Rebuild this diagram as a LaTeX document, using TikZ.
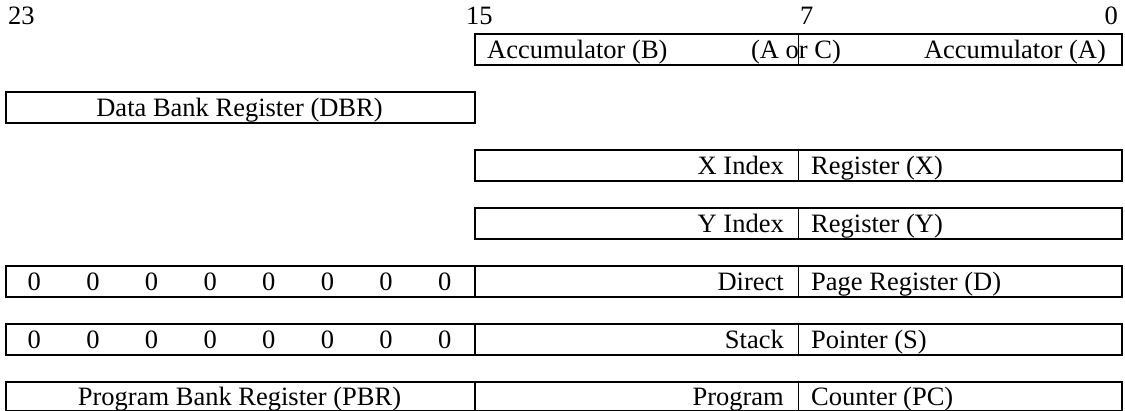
\documentclass[tikz,border=0pt]{standalone}
\usepackage{fontspec}
\setmainfont{Liberation Serif}
\begin{document}
\begin{tikzpicture}[x=1pt,y=-1pt,
  reg/.style={draw, line width=2pt, rectangle, inner sep=0pt, anchor=north west, minimum height=31.5pt},
  wide/.style={reg, minimum width=647pt},
  narrow/.style={reg, minimum width=469pt},
  lab/.style={inner sep=0pt, font=\fontsize{26.5}{30}\selectfont},
  div/.style={line width=1pt}]
\useasboundingbox (0,0) rectangle (1125,411);

% bit numbers
\node[lab, anchor=base west] (b23) at (8,25) {23};
\node[lab, anchor=base west] (b15) at (466,25) {15};
\node[lab, anchor=base west] (b7) at (800,25) {7};
\node[lab, anchor=base east] (b0) at (1118,25) {0};

% accumulator
\node[wide] (acc) at (474,33) {};
\draw[div] ([xshift=324pt]acc.north west) -- ([xshift=324pt]acc.south west);
\node[lab, anchor=base west] (accb) at (487,58.5) {Accumulator (B)};
\node[lab, anchor=base] (accc) at (796,58.5) {(A or C)};
\node[lab, anchor=base east] (acca) at (1106,58.5) {Accumulator (A)};

% data bank register
\node[narrow] (dbr) at (5,91) {};
\node[lab, anchor=base] (dbrt) at (239.5,116.5) {Data Bank Register (DBR)};

% X index
\node[wide] (xr) at (474,149) {};
\draw[div] ([xshift=324pt]xr.north west) -- ([xshift=324pt]xr.south west);
\node[lab, anchor=base east] (xl) at (784,174.5) {X Index};
\node[lab, anchor=base west] (xrr) at (811,174.5) {Register (X)};

% Y index
\node[wide] (yr) at (474,207) {};
\draw[div] ([xshift=324pt]yr.north west) -- ([xshift=324pt]yr.south west);
\node[lab, anchor=base east] (yl) at (784,232.5) {Y Index};
\node[lab, anchor=base west] (yrr) at (811,232.5) {Register (Y)};

% Direct page
\node[narrow] (dz) at (5,265) {};
\foreach \k in {0,...,7}
  \node[lab, anchor=base] (dz\k) at ({5+58.625*(\k+0.5)},290.5) {0};
\node[wide] (dr) at (474,265) {};
\draw[div] ([xshift=324pt]dr.north west) -- ([xshift=324pt]dr.south west);
\node[lab, anchor=base east] (dl) at (784,290.5) {Direct};
\node[lab, anchor=base west] (drr) at (811,290.5) {Page Register (D)};

% Stack pointer
\node[narrow] (sz) at (5,323) {};
\foreach \k in {0,...,7}
  \node[lab, anchor=base] (sz\k) at ({5+58.625*(\k+0.5)},348.5) {0};
\node[wide] (sr) at (474,323) {};
\draw[div] ([xshift=324pt]sr.north west) -- ([xshift=324pt]sr.south west);
\node[lab, anchor=base east] (sl) at (784,348.5) {Stack};
\node[lab, anchor=base west] (srr) at (811,348.5) {Pointer (S)};

% Program bank / counter
\node[narrow, minimum height=29pt] (pbr) at (5,381) {};
\node[lab, anchor=base] (pbrt) at (239.5,406) {Program Bank Register (PBR)};
\node[wide, minimum height=29pt] (pc) at (474,381) {};
\draw[div] ([xshift=324pt]pc.north west) -- ([xshift=324pt]pc.south west);
\node[lab, anchor=base east] (pl) at (784,406) {Program};
\node[lab, anchor=base west] (prr) at (811,406) {Counter (PC)};
\end{tikzpicture}
\end{document}
